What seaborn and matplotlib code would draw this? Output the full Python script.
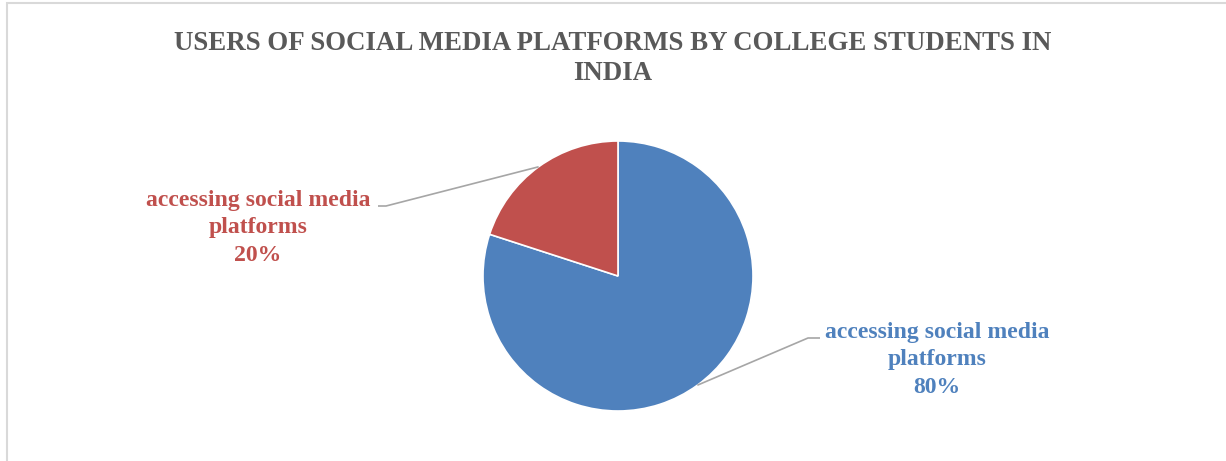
import numpy as np
import matplotlib
matplotlib.use("Agg")
import matplotlib.pyplot as plt
from matplotlib.patches import Rectangle
import seaborn as sns

title = "USERS OF SOCIAL MEDIA PLATFORMS BY COLLEGE STUDENTS IN\nINDIA"
categories = ["accessing social media\nplatforms", "accessing social media\nplatforms"]
values = [80, 20]
colors = ["#4F81BD", "#C0504D"]

sns.set_theme(style="white")
plt.rcParams['font.family'] = ['Liberation Serif', 'DejaVu Serif']

W, H = 1226, 461
fig = plt.figure(figsize=(W / 100, H / 100), dpi=100)
fig.patch.set_facecolor("white")
ax = fig.add_axes([0, 0, 1, 1])

# figure frame
fig.patches.append(Rectangle((7 / W, -0.1), 1.2, (H - 3) / H + 0.1, transform=fig.transFigure,
                             fill=False, edgecolor="#D9D9D9", linewidth=1.5, zorder=0))

cx, cy, r = 618, H - 276, 135
wedges, _ = ax.pie(values, colors=colors, startangle=90, counterclock=False,
                   center=(cx, cy), radius=r, frame=True,
                   wedgeprops=dict(edgecolor="white", linewidth=1.2))
ax.set_xlim(0, W)
ax.set_ylim(0, H)
ax.set_axis_off()

fig.text(0.5, 1 - 58.5 / H, title, ha="center", va="center", fontsize=19.4,
         fontweight="bold", color="#595959", linespacing=1.3)

label_pos = [(937, H - 360), (258, H - 228)]
for w, v, lab, col, (lx, ly), side in zip(wedges, values, categories, colors,
                                          label_pos, ["right", "left"]):
    ang = np.deg2rad((w.theta1 + w.theta2) / 2)
    px, py = cx + r * np.cos(ang), cy + r * np.sin(ang)
    ax.text(lx, ly, f"{lab}\n{v}%", ha="center", va="center", fontsize=17.1,
            fontweight="bold", color=col, linespacing=1.4)
    # leader line
    if side == "right":
        ex, ey = 808, H - 338
        hx = 820
    else:
        ex, ey = 386, H - 206
        hx = 378
    ax.plot([px, ex, hx], [py, ey, ey], color="#A6A6A6", linewidth=1.2,
            solid_capstyle="butt", zorder=1)

fig.savefig("out.png", dpi=100, facecolor="white")
